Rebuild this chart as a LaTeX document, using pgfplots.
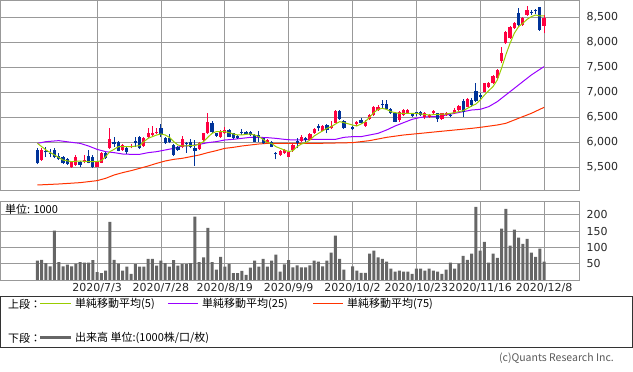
\documentclass[border=0pt]{standalone}
\usepackage{pgfplots}
\pgfplotsset{compat=1.18}
\usepackage{pgfplotstable}
\usepackage{fontspec}
\setmainfont{DejaVu Sans}
\newfontfamily\jp{Noto Sans CJK JP}
\definecolor{upred}{HTML}{FF0040}
\definecolor{dnblue}{HTML}{003399}
\definecolor{mafive}{HTML}{99CC00}
\definecolor{matwentyfive}{HTML}{9900FF}
\definecolor{maseventyfive}{HTML}{FF3300}
\definecolor{volgray}{HTML}{666666}
\definecolor{gridgray}{HTML}{999999}

\pgfplotstableread{
x o h l c
1 5640 5873 5627 5840
8 5493 5620 5480 5607
9 5540 5733 5527 5707
11 5607 5740 5573 5640
14 5507 5620 5493 5607
15 5587 5800 5573 5787
17 5873 6273 5853 6053
20 5840 5960 5820 5940
22 5893 5953 5873 5927
25 5920 6100 5900 6087
26 6107 6287 6073 6173
27 6140 6320 6107 6187
28 6173 6273 6160 6207
34 5907 6120 5873 6053
38 5853 5993 5840 5973
39 6040 6187 6020 6173
40 6173 6573 6160 6407
43 6093 6240 6080 6207
44 6173 6307 6160 6240
54 5973 6060 5960 6040
57 5740 5840 5727 5827
58 5773 5853 5760 5840
59 5707 5820 5693 5807
60 5840 5973 5807 5940
62 6027 6140 6007 6093
64 6040 6173 6027 6160
65 6173 6287 6160 6253
67 6227 6340 6213 6320
69 6273 6427 6253 6320
70 6387 6640 6373 6620
75 6360 6427 6320 6407
77 6320 6440 6307 6407
78 6453 6560 6440 6540
79 6540 6720 6527 6693
80 6640 6740 6627 6707
85 6440 6620 6400 6607
86 6540 6660 6527 6640
87 6573 6660 6560 6640
91 6507 6607 6460 6573
92 6493 6560 6480 6540
93 6573 6640 6560 6627
95 6453 6587 6440 6573
96 6540 6607 6527 6573
98 6573 6673 6560 6640
99 6640 6740 6627 6720
101 6707 6873 6693 6860
105 7007 7187 6993 7173
106 7093 7207 7080 7187
107 7173 7340 7160 7320
108 7273 7460 7260 7440
109 7620 7893 7573 7773
110 7973 8227 7953 8207
111 8073 8327 8060 8307
112 8273 8407 8260 8387
114 8340 8493 8327 8473
115 8540 8720 8520 8640
119 8320 8540 8173 8473
}\upcandles

\pgfplotstableread{
x o h l c
0 5840 5873 5553 5573
2 5820 5907 5707 5793
3 5787 5853 5693 5767
4 5840 5873 5673 5693
5 5720 5787 5640 5653
6 5707 5720 5560 5573
7 5653 5680 5547 5560
10 5607 5620 5507 5540
12 5720 5840 5573 5587
13 5707 5740 5473 5493
16 5787 5800 5660 5673
18 6007 6093 5907 5960
19 6007 6020 5813 5827
21 5873 5907 5760 5807
23 6027 6107 5907 5973
24 6107 6120 5860 5873
29 6287 6360 6107 6140
30 6073 6093 5960 5973
31 6073 6160 5973 6007
32 5940 5960 5727 5740
33 5907 5920 5827 5840
35 5987 6007 5787 5960
36 6007 6053 5873 5907
37 5873 6040 5527 5827
41 6387 6420 6187 6207
42 6173 6187 6100 6120
45 6240 6260 6093 6107
46 6173 6187 6060 6073
47 6120 6140 6060 6073
48 6207 6267 6140 6173
49 6207 6220 6147 6160
50 6200 6213 6127 6140
51 6140 6160 5993 6007
52 6140 6220 6007 6107
53 6073 6087 5960 5973
55 6007 6020 5893 5907
56 5773 5807 5653 5753
61 6027 6073 5873 5973
63 6073 6107 6007 6040
66 6320 6360 6227 6287
68 6340 6360 6173 6240
71 6620 6640 6440 6453
72 6427 6440 6260 6273
74 6307 6320 6240 6253
76 6440 6473 6360 6387
81 6760 6840 6673 6740
82 6760 6840 6640 6653
83 6653 6673 6560 6573
84 6573 6587 6393 6407
88 6553 6573 6507 6527
89 6593 6607 6520 6553
90 6607 6627 6527 6540
94 6573 6587 6407 6453
97 6547 6587 6493 6527
100 6820 6853 6493 6607
102 6840 6873 6707 6740
103 7027 7173 6807 6827
104 6940 6973 6840 6907
113 8587 8673 8320 8340
116 8593 8640 8540 8573
117 8647 8653 8560 8627
118 8693 8700 8227 8240
}\downcandles

\pgfplotstableread{
x y
0 5973
2 5840
4 5740
6 5640
8 5607
10 5620
12 5607
14 5607
15 5627
16 5707
17 5807
18 5853
19 5907
20 5907
22 5907
24 5927
25 6007
26 6073
27 6107
28 6140
29 6160
30 6140
31 6093
32 6007
33 5940
34 5920
36 5927
37 5933
38 5960
39 6007
40 6093
41 6173
42 6207
44 6207
45 6187
46 6160
47 6140
48 6140
49 6153
50 6160
51 6140
52 6107
53 6053
54 5987
55 5973
56 5907
57 5873
58 5840
59 5807
60 5827
61 5907
62 5960
63 5987
64 6040
65 6120
66 6173
68 6273
69 6307
70 6360
71 6407
72 6387
74 6340
75 6320
76 6360
77 6407
78 6493
79 6587
80 6653
81 6673
82 6653
83 6607
84 6587
85 6573
87 6573
89 6573
90 6560
92 6540
94 6553
96 6560
97 6573
98 6587
99 6607
100 6627
101 6673
102 6720
103 6760
104 6840
105 6940
106 7027
107 7107
108 7240
109 7473
110 7740
111 7973
112 8173
113 8307
114 8373
115 8453
116 8507
117 8540
118 8520
119 8520
}\mafivetab

\pgfplotstableread{
x y
0 5973
2 6007
5 6027
8 5993
10 5973
12 5920
14 5853
16 5807
18 5787
20 5760
22 5753
24 5753
26 5787
28 5807
30 5840
32 5873
34 5920
36 5927
38 5953
40 5987
42 6007
44 6040
46 6053
48 6073
50 6093
52 6093
54 6087
56 6073
58 6053
60 6040
62 6040
64 6053
66 6053
70 6053
72 6093
74 6107
76 6107
78 6140
80 6173
82 6240
84 6320
86 6387
88 6453
90 6493
92 6507
94 6507
96 6540
98 6573
100 6607
102 6640
104 6653
106 6707
108 6807
110 6940
112 7073
114 7207
116 7340
118 7453
119 7507
}\matwentyfivetab

\pgfplotstableread{
x y
0 5140
5 5160
10 5187
14 5227
16 5273
18 5340
20 5387
22 5427
24 5473
26 5520
28 5573
30 5620
32 5653
34 5673
36 5707
38 5740
40 5787
42 5827
44 5873
46 5893
48 5920
50 5940
52 5960
54 5973
60 5973
66 5973
74 5987
78 6027
82 6093
86 6140
90 6173
94 6207
98 6240
102 6273
104 6293
108 6340
110 6373
112 6440
114 6507
116 6573
118 6653
119 6693
}\maseventyfivetab

\pgfplotstableread{
x v
0 59
1 62
2 52
3 42
4 151
5 55
6 42
7 47
8 42
9 50
10 55
11 53
12 53
13 61
14 24
15 21
16 29
17 178
18 62
19 50
20 29
21 41
22 19
23 49
24 41
25 41
26 65
27 65
28 44
29 59
30 52
31 41
32 61
33 44
34 49
35 49
36 52
37 194
38 55
39 69
40 160
41 55
42 32
43 71
44 41
45 49
46 21
47 21
48 28
49 16
50 38
51 59
52 41
53 65
54 41
55 59
56 78
57 26
58 48
59 61
60 39
61 45
62 39
63 39
64 45
65 59
66 56
67 42
68 59
69 84
70 136
71 65
72 32
74 42
75 29
76 22
77 22
78 81
79 90
80 69
81 65
82 56
83 35
84 26
85 29
86 26
87 26
88 19
89 35
90 35
91 29
92 35
93 29
94 26
95 19
96 32
97 53
98 35
99 50
100 74
101 62
102 81
103 224
104 90
105 117
106 53
107 81
108 68
109 157
110 218
111 105
112 154
113 130
114 111
115 126
116 84
117 71
118 96
119 56
}\voltab

\pgfplotsset{
  panel/.style={
    scale only axis, width=579pt,
    xmin=-8.8, xmax=127.2,
    xtick={14,29,44,59,74,89,104,119},
    yticklabel pos=right,
    grid=major,
    grid style={draw=gridgray, line width=0.8pt},
    axis line style={draw=gridgray, line width=0.8pt},
    major tick length=0pt,
    tick label style={font=\fontsize{11}{13}\selectfont, text=black!85},
    yticklabel style={xshift=4pt},
    /pgf/number format/assume math mode=true,
    /pgf/number format/1000 sep={,},
    anchor=south west,
  },
  candle/.style 2 args={draw=none, mark=none,
    error bars/y dir=plus, error bars/y explicit, error bars/error mark=none,
    error bars/error bar style={line width=#1, draw=#2}},
}

\begin{document}
\begin{tikzpicture}
\path[use as bounding box] (0pt,0pt) rectangle (633pt,372pt);

\begin{axis}[panel, at={(0pt,182pt)}, height=190pt,
  ymin=5040, ymax=8840,
  ytick={5500,6000,6500,7000,7500,8000,8500},
  xticklabels={}]
\addplot[maseventyfive, line width=1pt] table[x=x,y=y]{\maseventyfivetab};
\addplot[matwentyfive, line width=1pt] table[x=x,y=y]{\matwentyfivetab};
% wicks
\addplot[candle={1pt}{upred}]
  table[x=x, y=l, y error plus expr=\thisrow{h}-\thisrow{l}]{\upcandles};
\addplot[candle={1pt}{dnblue}]
  table[x=x, y=l, y error plus expr=\thisrow{h}-\thisrow{l}]{\downcandles};
% bodies
\addplot[candle={3.2pt}{upred}]
  table[x=x, y=o, y error plus expr=\thisrow{c}-\thisrow{o}]{\upcandles};
\addplot[candle={3.2pt}{dnblue}]
  table[x=x, y=c, y error plus expr=\thisrow{o}-\thisrow{c}]{\downcandles};
\addplot[mafive, line width=1pt] table[x=x,y=y]{\mafivetab};
\end{axis}

\begin{axis}[panel, at={(0pt,92pt)}, height=79pt,
  ymin=0, ymax=242,
  ytick={50,100,150,200},
  xticklabels={2020/7/3,2020/7/28,2020/8/19,2020/9/9,2020/10/2,2020/10/23,2020/11/16,2020/12/8},
  ybar, bar width=3pt]
\addplot[fill=volgray, draw=none] table[x=x,y=v]{\voltab};
\node[anchor=west, inner sep=0pt, font=\jp\fontsize{11}{13}\selectfont]
  at ([xshift=5pt,yshift=-8pt]rel axis cs:0,1) {単位: 1000};
\end{axis}

% legend box
\draw[black!80, line width=0.8pt] (0.4pt,25pt) rectangle (632.6pt,76pt);
\begin{scope}[every node/.style={font=\jp\fontsize{11}{13}\selectfont, inner sep=0pt, anchor=west}]
\node at (8pt,68pt) {上段：};
\draw[mafive, line width=1pt] (40pt,68pt) -- (71pt,68pt);
\node at (75pt,68pt) {単純移動平均(5)};
\draw[matwentyfive, line width=1pt] (168pt,68pt) -- (198pt,68pt);
\node at (202pt,68pt) {単純移動平均(25)};
\draw[maseventyfive, line width=1pt] (313pt,68pt) -- (343pt,68pt);
\node at (347pt,68pt) {単純移動平均(75)};
\node at (8pt,34pt) {下段：};
\draw[volgray, line width=3pt] (40pt,34pt) -- (71pt,34pt);
\node at (75pt,34pt) {出来高 単位:(1000株/口/枚)};
\end{scope}
\node[anchor=east, inner sep=0pt, text=black!65, font=\jp\fontsize{10.5}{12}\selectfont] at (614pt,14pt) {(c)Quants Research Inc.};
\end{tikzpicture}
\end{document}
